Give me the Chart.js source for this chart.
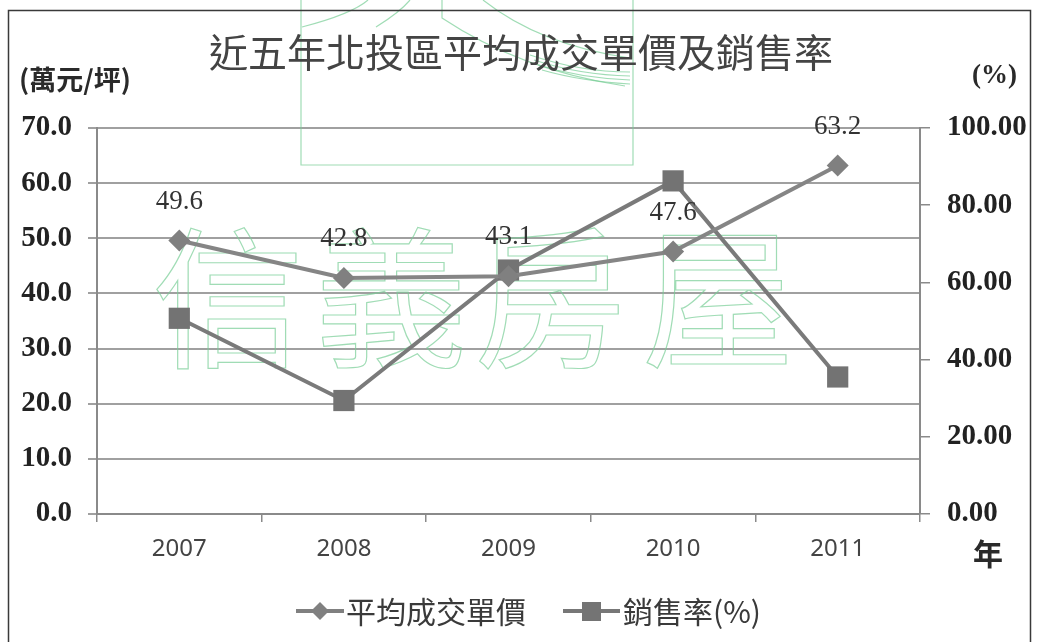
<!DOCTYPE html>
<html>
<head>
<meta charset="utf-8">
<script src="https://cdn.jsdelivr.net/npm/chart.js@4/dist/chart.umd.min.js"></script>
<style>
  html, body { margin: 0; padding: 0; background: #fff; }
  canvas { display: block; }
</style>
</head>
<body>
<canvas id="c" width="1037" height="642"></canvas>
<script>
// ---- data ----
const years = ['2007', '2008', '2009', '2010', '2011'];
const avgPrice = [49.6, 42.8, 43.1, 47.6, 63.2];      // 萬元/坪 (left axis)
const salesRate = [50.7, 29.4, 63.2, 86.3, 35.5];     // % (right axis)
const seriesNames = ['平均成交單價', '銷售率(%)'];
const titleText = '近五年北投區平均成交單價及銷售率';
const leftUnit = '(萬元/坪)';
const rightUnit = '(%)';
const xUnit = '年';
const watermarkChars = ['信', '義', '房', '屋'];

const CJK = '"Noto Sans CJK TC", "Noto Sans CJK SC", sans-serif';
const SERIF = '"Liberation Serif", "DejaVu Serif", serif';

const decor = {
  id: 'decor',
  beforeDraw(chart) {
    const ctx = chart.ctx;
    ctx.save();
    ctx.fillStyle = '#ffffff';
    ctx.fillRect(0, 0, chart.width, chart.height);
    ctx.restore();
  },
  beforeDatasetsDraw(chart) {
    const ctx = chart.ctx;
    ctx.save();
    ctx.strokeStyle = 'rgba(120,205,150,0.7)';
    ctx.lineWidth = 1.2;
    // logo frame
    ctx.beginPath();
    ctx.moveTo(301, 0); ctx.lineTo(301, 165); ctx.lineTo(633, 165); ctx.lineTo(633, 0);
    ctx.stroke();
    ctx.beginPath();
    ctx.moveTo(302, 27); ctx.quadraticCurveTo(352, 14, 368, 0); ctx.stroke();
    ctx.beginPath();
    ctx.moveTo(376, 27); ctx.quadraticCurveTo(400, 12, 410, 0); ctx.stroke();
    ctx.beginPath();
    ctx.moveTo(442, 0); ctx.lineTo(442, 18); ctx.quadraticCurveTo(520, 70, 625, 86); ctx.stroke();
    ctx.beginPath();
    ctx.moveTo(483, 0); ctx.quadraticCurveTo(540, 45, 630, 58); ctx.stroke();
    for (let i = 0; i < 4; i++) {
      ctx.beginPath();
      ctx.moveTo(530 + i * 4, 55 + i * 5); ctx.quadraticCurveTo(580, 72 + i * 3, 630, 72 + i * 4); ctx.stroke();
    }
    // watermark text
    ctx.font = '400 152px ' + CJK;
    ctx.textAlign = 'center';
    ctx.textBaseline = 'middle';
    const cx = [228, 391, 550, 718];
    watermarkChars.forEach((ch, i) => ctx.strokeText(ch, cx[i], 298));
    ctx.restore();
  },
  afterDraw(chart) {
    const ctx = chart.ctx;
    ctx.save();
    // frame
    ctx.strokeStyle = '#3a3a3a';
    ctx.lineWidth = 1.5;
    ctx.beginPath();
    ctx.moveTo(8.5, 642); ctx.lineTo(8.5, 10.5); ctx.lineTo(1030.5, 10.5); ctx.lineTo(1030.5, 642);
    ctx.stroke();

    // title
    ctx.fillStyle = '#444';
    ctx.font = '400 39px ' + CJK;
    ctx.textAlign = 'center';
    ctx.textBaseline = 'middle';
    ctx.fillText(titleText, 521, 52);

    // unit labels
    ctx.fillStyle = '#2a2a2a';
    ctx.font = '700 27px ' + CJK;
    ctx.textAlign = 'left';
    ctx.fillText(leftUnit, 19, 80);
    ctx.font = '700 27px ' + SERIF;
    ctx.fillText(rightUnit, 972, 76);
    ctx.font = '700 30px ' + CJK;
    ctx.fillText(xUnit, 973, 554);

    // data labels for price series
    const meta = chart.getDatasetMeta(0);
    ctx.fillStyle = '#333';
    ctx.font = '400 27px ' + SERIF;
    ctx.textAlign = 'center';
    meta.data.forEach((pt, i) => {
      ctx.fillText(avgPrice[i].toFixed(1), pt.x, pt.y - 39);
    });

    // legend
    const ly = 611;
    ctx.strokeStyle = '#808080';
    ctx.fillStyle = '#808080';
    ctx.lineWidth = 4;
    ctx.beginPath(); ctx.moveTo(296, ly); ctx.lineTo(344, ly); ctx.stroke();
    ctx.beginPath();
    ctx.moveTo(320, ly - 9); ctx.lineTo(329, ly); ctx.lineTo(320, ly + 9); ctx.lineTo(311, ly); ctx.closePath();
    ctx.fill();
    ctx.strokeStyle = '#777';
    ctx.fillStyle = '#747474';
    ctx.beginPath(); ctx.moveTo(563, ly); ctx.lineTo(620, ly); ctx.stroke();
    ctx.fillRect(582, ly - 9, 19, 19);
    ctx.fillStyle = '#3a3a3a';
    ctx.font = '400 30px ' + CJK;
    ctx.textAlign = 'left';
    ctx.textBaseline = 'middle';
    ctx.fillText(seriesNames[0], 346, ly + 1);
    ctx.fillText(seriesNames[1], 623, ly + 1);
    ctx.restore();
  }
};

new Chart(document.getElementById('c'), {
  type: 'line',
  data: {
    labels: years,
    datasets: [
      {
        label: seriesNames[0],
        data: avgPrice,
        yAxisID: 'y',
        borderColor: '#858585',
        backgroundColor: '#808080',
        borderWidth: 4,
        pointStyle: 'rectRot',
        pointRadius: 11,
        pointBorderWidth: 0,
        pointBackgroundColor: '#808080',
        tension: 0
      },
      {
        label: seriesNames[1],
        data: salesRate,
        yAxisID: 'y1',
        borderColor: '#7a7a7a',
        backgroundColor: '#737373',
        borderWidth: 4,
        pointStyle: 'rect',
        pointRadius: 15,
        pointBorderWidth: 0,
        pointBackgroundColor: '#737373',
        tension: 0
      }
    ]
  },
  options: {
    responsive: false,
    animation: false,
    devicePixelRatio: 1,
    layout: { padding: { top: 128, left: 0, right: 0, bottom: 0 } },
    plugins: {
      legend: { display: false },
      title: { display: false },
      tooltip: { enabled: false }
    },
    scales: {
      x: {
        type: 'category',
        offset: true,
        afterFit(s) { s.height = 128; },
        grid: { offset: true, drawOnChartArea: false, drawTicks: true, tickLength: 8, color: '#8a8a8a', lineWidth: 1.5 },
        border: { display: true, color: '#8a8a8a', width: 2 },
        ticks: { color: '#444', font: { family: 'Noto Sans', size: 24, weight: '400' }, padding: 13, maxRotation: 0 }
      },
      y: {
        position: 'left',
        min: 0, max: 70,
        afterFit(s) { s.width = 97; },
        ticks: { stepSize: 10, color: '#222', font: { family: 'Liberation Serif', size: 29, weight: '700' }, padding: 16,
          callback: v => Number(v).toFixed(1) },
        grid: { color: '#a0a0a0', lineWidth: 2, drawTicks: true, tickLength: 9 },
        border: { display: true, color: '#8a8a8a', width: 2 }
      },
      y1: {
        position: 'right',
        min: 0, max: 100,
        afterFit(s) { s.width = 117; },
        ticks: { stepSize: 20, color: '#222', font: { family: 'Liberation Serif', size: 29, weight: '700' }, padding: 17,
          callback: v => Number(v).toFixed(2) },
        grid: { drawOnChartArea: false, drawTicks: true, tickLength: 10, color: '#8a8a8a', lineWidth: 1.5 },
        border: { display: true, color: '#8a8a8a', width: 2 }
      }
    }
  },
  plugins: [decor]
});
</script>
</body>
</html>
